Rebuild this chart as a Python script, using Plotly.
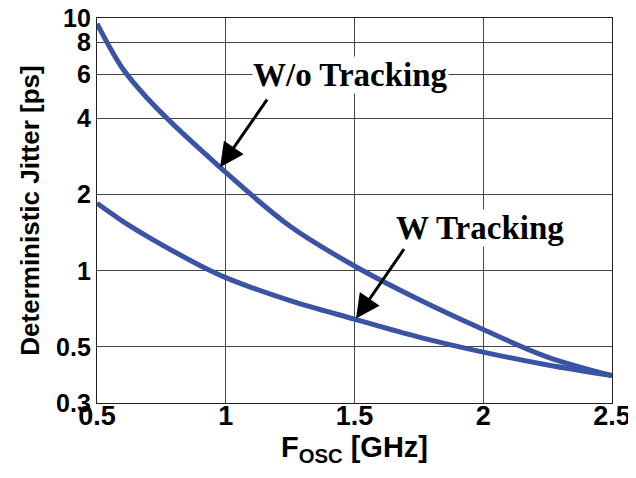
import plotly.graph_objects as go
import math

freq_ghz = [0.5, 0.6, 0.7, 0.8, 0.9, 1.0, 1.25, 1.5, 1.75, 2.0, 2.25, 2.5]
jitter_wo_tracking = [9.5, 6.3, 4.76, 3.76, 3.03, 2.45, 1.50, 1.045, 0.77, 0.586, 0.456, 0.385]
jitter_w_tracking = [1.85, 1.57, 1.36, 1.19, 1.05, 0.94, 0.762, 0.644, 0.547, 0.477, 0.424, 0.385]

y_tickvals = [0.3, 0.5, 1, 2, 4, 6, 8, 10]
y_ticktext = ["0.3", "0.5", "1", "2", "4", "6", "8", "10"]
x_tickvals = [0.5, 1, 1.5, 2, 2.5]
x_ticktext = ["0.5", "1", "1.5", "2", "2.5"]

line_color = "#3A53A4"
grid_color = "#454545"

fig = go.Figure()
fig.add_trace(go.Scatter(x=freq_ghz, y=jitter_wo_tracking, mode="lines",
                         line=dict(color=line_color, width=5, shape="spline", smoothing=1.0),
                         name="W/o Tracking", showlegend=False))
fig.add_trace(go.Scatter(x=freq_ghz, y=jitter_w_tracking, mode="lines",
                         line=dict(color=line_color, width=5, shape="spline", smoothing=1.0),
                         name="W Tracking", showlegend=False))

serif = dict(family="Liberation Serif", size=33, color="black", weight="bold")

# text labels
fig.add_annotation(x=1.486, y=math.log10(5.96), text="W/o Tracking", showarrow=False,
                   font=serif, bgcolor="white", borderpad=0, xanchor="center", yanchor="middle")
fig.add_annotation(x=1.987, y=math.log10(1.48), text="W Tracking", showarrow=False,
                   font=serif, bgcolor="white", borderpad=0, xanchor="center", yanchor="middle")

# arrows
fig.add_annotation(x=0.978, y=math.log10(2.57), text="", showarrow=True,
                   ax=48, ay=-69, arrowhead=2, arrowsize=1.6, arrowwidth=3, arrowcolor="black")
fig.add_annotation(x=1.506, y=math.log10(0.647), text="", showarrow=True,
                   ax=49, ay=-71, arrowhead=2, arrowsize=1.6, arrowwidth=3, arrowcolor="black")

axis_common = dict(showline=True, mirror=True, linecolor="#222222", linewidth=1.3,
                   showgrid=True, gridcolor=grid_color, gridwidth=1, ticks="", zeroline=False,
                   automargin=False, ticklabeloverflow="allow")

fig.update_xaxes(range=[0.5, 2.5], tickvals=x_tickvals, ticktext=x_ticktext,
                 tickfont=dict(family="Liberation Sans", size=27, color="black", weight="bold"),
                 ticklabelstandoff=-12,
                 title=dict(text="F<sub>OSC</sub> [GHz]", standoff=4,
                            font=dict(family="Liberation Sans", size=29, color="black", weight="bold")),
                 **axis_common)
fig.update_yaxes(type="log", range=[math.log10(0.3), 1], tickvals=y_tickvals, ticktext=y_ticktext,
                 tickfont=dict(family="Liberation Sans", size=25, color="black", weight="bold"),
                 title=dict(text="Deterministic Jitter [ps]", standoff=8,
                            font=dict(family="Liberation Sans", size=26, color="black", weight="bold")),
                 **axis_common)

# page body has an 8px margin, so the figure is shrunk by 8px and margins shifted
fig.update_layout(width=628, height=470, margin=dict(l=89, r=24, t=10, b=75),
                  paper_bgcolor="white", plot_bgcolor="white")

fig.write_html("out.html")
